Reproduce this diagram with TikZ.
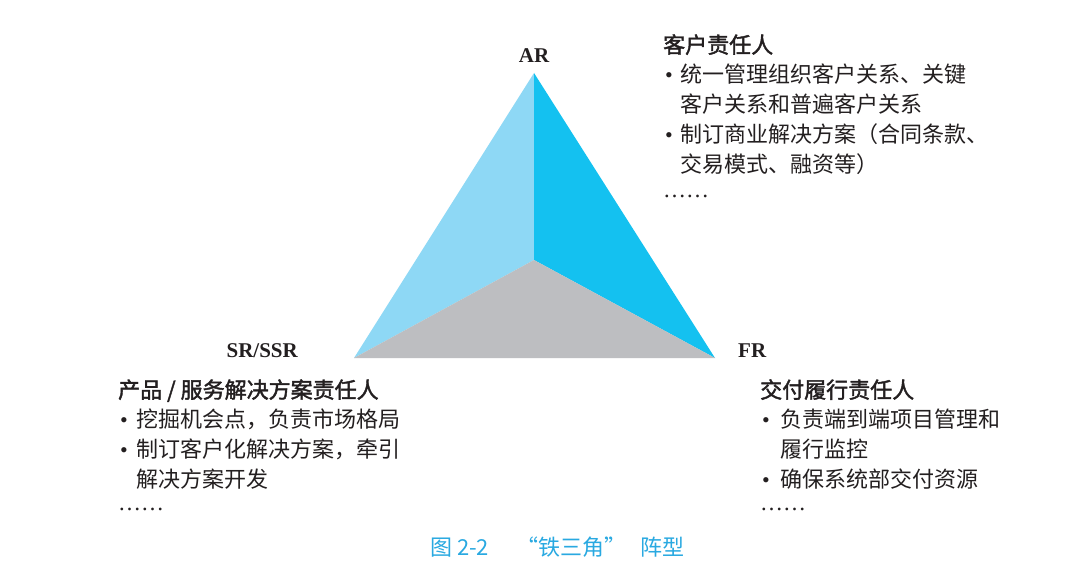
\documentclass[tikz,border=0pt]{standalone}
\usepackage{fontspec}
\setmainfont{Liberation Serif}
\newfontfamily\cjk{Noto Sans CJK SC}
\newfontfamily\cjkh[FakeBold=1.8]{Noto Sans CJK SC}
\newfontfamily\lat{Liberation Serif}
\definecolor{leftblue}{HTML}{8ED8F5}
\definecolor{rightblue}{HTML}{14C1F0}
\definecolor{basegray}{HTML}{BDBEC1}
\definecolor{txtgray}{HTML}{231F20}
\definecolor{capblue}{HTML}{29A9E1}
\tikzset{
  txt/.style={anchor=base west, inner sep=0pt, text=txtgray, font=\cjk\fontsize{22}{22}\selectfont},
  hdr/.style={txt, font=\cjkh\fontsize{22}{22}\selectfont},
  bul/.style={anchor=base west, inner sep=0pt, text=txtgray, font=\lat\fontsize{22}{22}\selectfont},
  dotsn/.style={anchor=base west, inner sep=0pt, text=txtgray, font=\lat\fontsize{23}{23}\selectfont},
  role/.style={inner sep=0pt, text=txtgray, font=\lat\bfseries\fontsize{21}{21}\selectfont},
  captxt/.style={anchor=base west, inner sep=0pt, text=capblue, font=\cjk\fontsize{22}{22}\selectfont},
}
\begin{document}
\begin{tikzpicture}[x=1pt,y=-1pt]
\useasboundingbox (0,0) rectangle (1080,575);
\fill[white] (0,0) rectangle (1080,575);
% triangle
\coordinate (A) at (534,73);
\coordinate (L) at (354,358);
\coordinate (R) at (715,358);
\coordinate (C) at (534,260);
\fill[leftblue] (A) -- (C) -- (L) -- cycle;
\fill[rightblue] (A) -- (R) -- (C) -- cycle;
\fill[basegray] (L) -- (C) -- (R) -- cycle;
% vertex labels
\node[role, anchor=base] (ar) at (534,63) {AR};
\node[role, anchor=base east] (sr) at (298,357) {SR/SSR};
\node[role, anchor=base west] (fr) at (738,357) {FR};
% top-right block
\node[hdr] (t0) at (663,53) {客户责任人};
\node[bul] (tb1) at (665,83) {•};
\node[txt] (t1) at (680,83) {统一管理组织客户关系、关键};
\node[txt] (t2) at (680,113) {客户关系和普遍客户关系};
\node[bul] (tb3) at (665,143) {•};
\node[txt] (t3) at (680,143) {制订商业解决方案（合同条款、};
\node[txt] (t4) at (680,173) {交易模式、融资等）};
\node[dotsn] (t5) at (663,197) {……};
% bottom-left block
\node[hdr] (l0) at (118,398) {产品 / 服务解决方案责任人};
\node[bul] (lb1) at (120,427) {•};
\node[txt] (l1) at (136,427) {挖掘机会点，负责市场格局};
\node[bul] (lb2) at (120,457) {•};
\node[txt] (l2) at (136,457) {制订客户化解决方案，牵引};
\node[txt] (l3) at (136,487) {解决方案开发};
\node[dotsn] (l4) at (118,510) {……};
% bottom-right block
\node[hdr] (r0) at (760,398) {交付履行责任人};
\node[bul] (rb1) at (762,427) {•};
\node[txt] (r1) at (780,427) {负责端到端项目管理和};
\node[txt] (r2) at (780,457) {履行监控};
\node[bul] (rb3) at (762,487) {•};
\node[txt] (r3) at (780,487) {确保系统部交付资源};
\node[dotsn] (r4) at (760,510) {……};
% caption
\node[captxt] (cap1) at (430,555) {图 2-2};
\node[captxt] (cap2) at (516,555) {“铁三角”};
\node[captxt] (cap3) at (640,555) {阵型};
\end{tikzpicture}
\end{document}
